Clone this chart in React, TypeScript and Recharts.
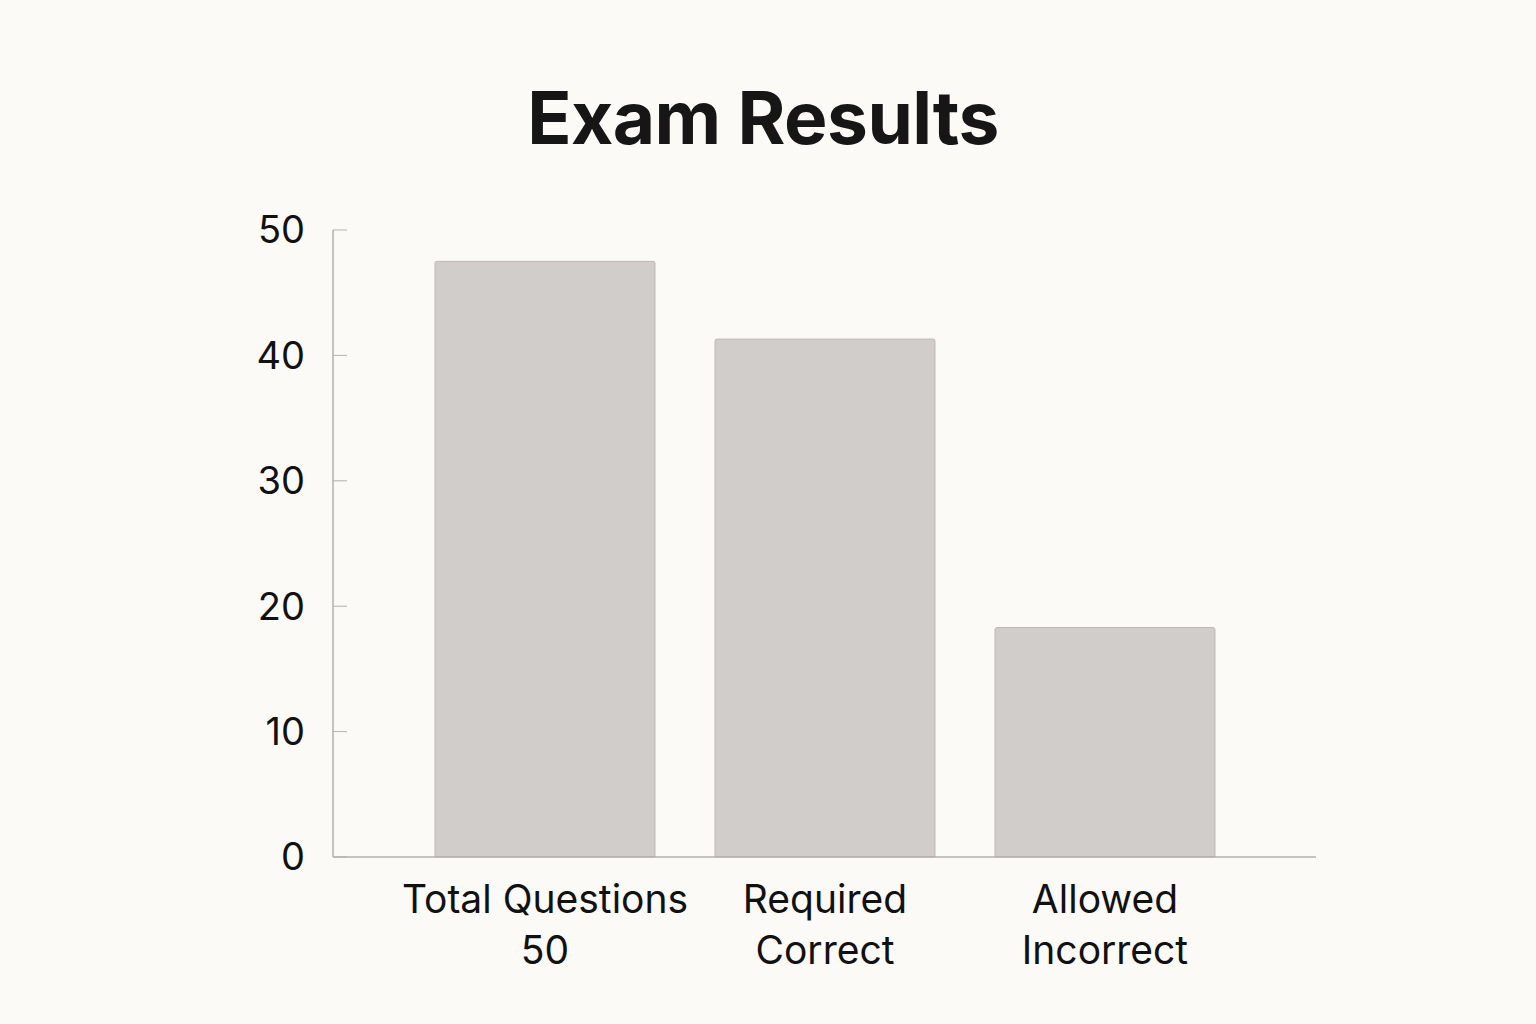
import {BarChart, Bar, XAxis, YAxis} from 'recharts';

const categories = ['Total Questions\n50', 'Required\nCorrect', 'Allowed\nIncorrect'];
const values = [47.5, 41.3, 18.3];
const yTicks = [0, 10, 20, 30, 40, 50];

const data = categories.map((name, i) => ({name, value: values[i]}));

const FONT = 'Inter, "DejaVu Sans", sans-serif';

function CategoryTick(props: any) {
    const {x, y, payload} = props;
    const lines = String(payload.value).split('\n');
    return (
        <text x={x} y={y} textAnchor="middle" fill="#111" fontSize={39} fontFamily={FONT}>
            {lines.map((line, i) => (
                <tspan key={i} x={x} dy={i === 0 ? 48 : 51}>{line}</tspan>
            ))}
        </text>
    );
}

export default function App() {
    return (
        <div style={{position: 'absolute', left: 0, top: 0, width: 1536, height: 1024, background: '#fcfaf7'}}>
            <div style={{
                position: 'absolute', left: -5, top: 73, width: 1536, textAlign: 'center',
                fontFamily: FONT, fontWeight: 700, fontSize: 73, color: '#161616', letterSpacing: -0.5
            }}>
                Exam Results
            </div>
            <BarChart width={1536} height={1024} data={data}
                      margin={{top: 230, right: 220, bottom: 0, left: 0}}
                      barCategoryGap={30}
                      style={{position: 'absolute', left: 0, top: 0}}>
                <XAxis dataKey="name" height={167} tick={<CategoryTick/>} tickLine={false}
                       axisLine={{stroke: '#b3b0ad', strokeWidth: 1.5}}
                       padding={{left: 72, right: 71}} interval={0}/>
                <YAxis width={333} domain={[0, 50]} ticks={yTicks} interval={0}
                       tickSize={-14} tickMargin={42}
                       tickLine={{stroke: '#b3b0ad', strokeWidth: 1}}
                       axisLine={{stroke: '#b3b0ad', strokeWidth: 1.5}}
                       tick={{fill: '#111', fontSize: 38, fontFamily: FONT}}/>
                <Bar dataKey="value" fill="#d1cdca" stroke="#bdb9b6" strokeWidth={1}
                     radius={[2, 2, 0, 0]} isAnimationActive={false}/>
            </BarChart>
        </div>
    );
}
